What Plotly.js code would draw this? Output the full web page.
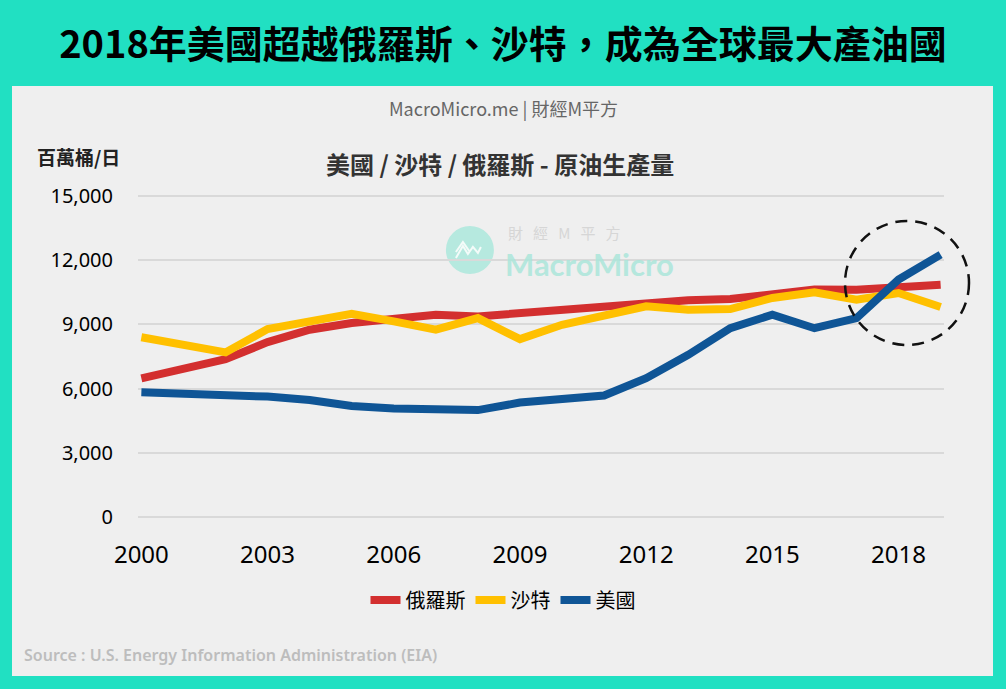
<!DOCTYPE html>
<html>
<head>
<meta charset="utf-8">
<script src="https://cdn.plot.ly/plotly-3.0.1.min.js"></script>
<style>
html,body{margin:0;padding:0;background:#21e0c2;}
#chart{width:1006px;height:689px;}
</style>
</head>
<body>
<div id="chart"></div>
<script>
// ---- data ----
const years = [2000,2001,2002,2003,2004,2005,2006,2007,2008,2009,2010,2011,2012,2013,2014,2015,2016,2017,2018,2019];
const russia = [6480,6920,7375,8170,8750,9060,9290,9450,9370,9530,9680,9840,9990,10120,10180,10380,10620,10610,10770,10850];
const saudi  = [8400,8050,7690,8780,9140,9490,9140,8750,9290,8310,8980,9450,9840,9680,9710,10230,10490,10150,10460,9810];
const usa    = [5830,5790,5710,5630,5470,5190,5080,5080,5000,5350,5470,5680,6490,7580,8820,9450,8820,9290,11090,12250];
const seriesNames = ['俄羅斯','沙特','美國'];
const xTickVals = [2000,2003,2006,2009,2012,2015,2018];
const yTickVals = [0,3000,6000,9000,12000,15000];

const colors = ['#d32f2f','#ffc000','#0f5596'];
const cjk = '"Noto Sans CJK TC", "Noto Sans", sans-serif';

const traces = [russia, saudi, usa].map((vals, i) => ({
  x: years, y: vals, name: seriesNames[i], type: 'scatter', mode: 'lines',
  line: {color: colors[i], width: 8}, hoverinfo: 'x+y+name'
}));

const nb = '\u00a0';
// plot-area geometry helpers (pixels -> paper fractions)
const L = 138, W = 806, B = 528, H = 343;
const px = v => (v - L) / W;
const py = v => (B - v) / H;

const layout = {
  width: 1006, height: 689,
  margin: {l: 138, r: 62, t: 185, b: 161},
  paper_bgcolor: '#21e0c2',
  plot_bgcolor: '#efefef',
  font: {family: cjk, color: '#000'},
  title: {
    text: '2018年美國超越俄羅斯、沙特，成為全球最大產油國',
    font: {family: cjk, size: 38, color: '#000', weight: 'bold'},
    x: 0.5, xref: 'container', xanchor: 'center',
    y: 1 - 45/689, yref: 'container', yanchor: 'middle'
  },
  xaxis: {
    range: [1999.92, 2019.08], tickvals: xTickVals, showgrid: false, zeroline: false,
    showline: false, ticks: '', ticklabelstandoff: 10,
    tickfont: {family: '"Noto Sans", sans-serif', size: 24, color: '#000'}
  },
  yaxis: {
    range: [-500, 15500], tickvals: yTickVals, tickformat: ',d', showgrid: true,
    gridcolor: '#d9d9d9', gridwidth: 2, zeroline: false, showline: false, ticks: '',
    ticklabelstandoff: 24,
    tickfont: {family: '"Noto Sans", sans-serif', size: 20, color: '#000'}
  },
  showlegend: true,
  legend: {
    orientation: 'h', x: px(503), xanchor: 'center', y: py(600), yanchor: 'middle',
    font: {family: cjk, size: 20, color: '#000'}, bgcolor: 'rgba(0,0,0,0)',
    itemwidth: 30, tracegroupgap: 0
  },
  shapes: [
    // inner light panel
    {type: 'rect', xref: 'paper', yref: 'paper', layer: 'below',
     x0: px(12), x1: px(993), y0: py(676), y1: py(86),
     fillcolor: '#efefef', line: {width: 0}},
    // watermark logo circle
    {type: 'circle', xref: 'x', yref: 'y', layer: 'below',
     xsizemode: 'pixel', ysizemode: 'pixel', xanchor: 2007.81, yanchor: 12470,
     x0: -24, x1: 24, y0: -24, y1: 24, fillcolor: '#b6e9df', line: {width: 0}},
    {type: 'path', xref: 'x', yref: 'y', layer: 'below',
     xsizemode: 'pixel', ysizemode: 'pixel', xanchor: 2007.81, yanchor: 12470,
     path: 'M-14,-8 L-7,4 L-2,-4 L3,3 L8,-3 L11,3 M-14,-2 L-7,8 L0,-2',
     line: {color: '#f4fbf9', width: 2}},
    // dashed highlight circle (paper refs so it is not clipped by the plot area)
    {type: 'circle', xref: 'paper', yref: 'paper', layer: 'above',
     x0: px(845), x1: px(969), y0: py(345), y1: py(221),
     line: {color: '#111', width: 2.5, dash: '12px,8px'}}
  ],
  annotations: [
    {text: 'MacroMicro.me | 財經M平方', xref: 'paper', yref: 'paper', x: px(503), y: py(108),
     xanchor: 'center', yanchor: 'middle', showarrow: false,
     font: {family: cjk, size: 18, color: '#666'}},
    {text: '美國 / 沙特 / 俄羅斯 - 原油生產量', xref: 'paper', yref: 'paper', x: px(500), y: py(163),
     xanchor: 'center', yanchor: 'middle', showarrow: false,
     font: {family: cjk, size: 24, color: '#333', weight: 'bold'}},
    {text: '百萬桶/日', xref: 'paper', yref: 'paper', x: px(35), y: py(157),
     xanchor: 'left', yanchor: 'middle', showarrow: false,
     font: {family: cjk, size: 19, color: '#222', weight: 'bold'}},
    {text: ['財','經','M','平','方'].join(nb + nb + nb), xref: 'paper', yref: 'paper', x: px(506), y: py(232),
     xanchor: 'left', yanchor: 'middle', showarrow: false,
     font: {family: cjk, size: 15, color: '#d6d6d6'}},
    {text: 'MacroMicro', xref: 'paper', yref: 'paper', x: px(503), y: py(264),
     xanchor: 'left', yanchor: 'middle', showarrow: false, opacity: 0.85,
     font: {family: 'Lato, "Noto Sans", sans-serif', size: 31, color: '#abe6db', weight: 'bold'}},
    {text: 'Source : U.S. Energy Information Administration (EIA)', xref: 'paper', yref: 'paper',
     x: px(22), y: py(655), xanchor: 'left', yanchor: 'middle', showarrow: false,
     font: {family: '"Noto Sans", sans-serif', size: 16, color: '#bdbdbd', weight: 600}}
  ]
};

Plotly.newPlot('chart', traces, layout, {displayModeBar: false, staticPlot: true});
</script>
</body>
</html>
